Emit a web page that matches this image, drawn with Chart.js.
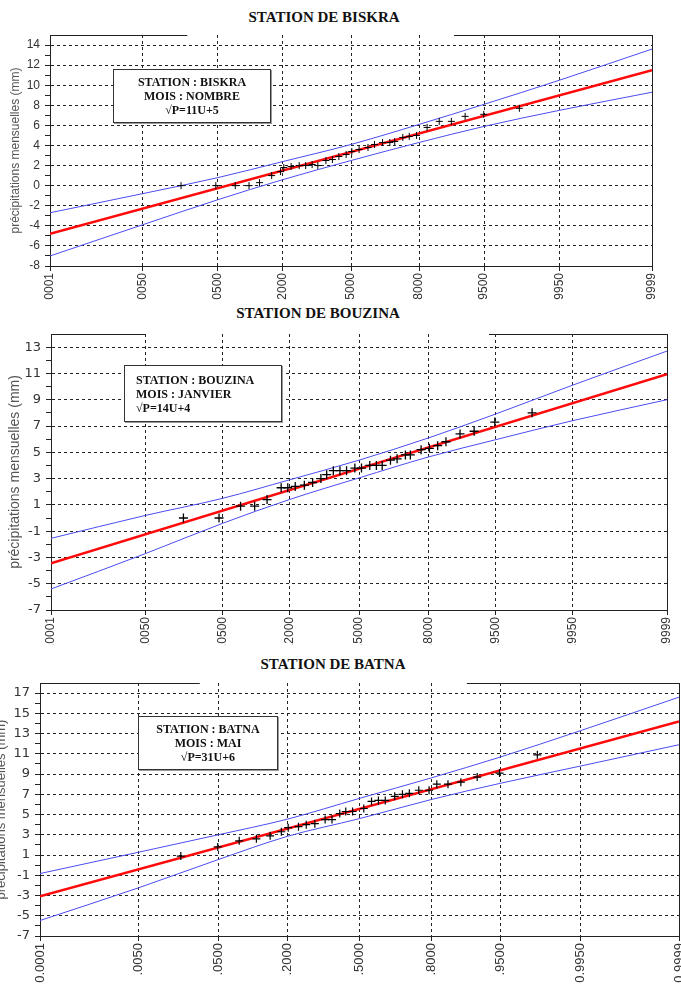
<!DOCTYPE html>
<html>
<head>
<meta charset="utf-8">
<script src="https://cdn.jsdelivr.net/npm/chart.js@4.4.1/dist/chart.umd.min.js"></script>
<style>
  html, body { margin: 0; padding: 0; background: #fff; overflow: hidden; }
  #page { position: relative; width: 681px; height: 988px; overflow: hidden; }
  canvas { position: absolute; }
  .title {
    position: absolute; transform: translate(-50%, -50%); white-space: nowrap;
    font: bold 15px "Liberation Serif", "Times New Roman", serif; color: #111;
  }
  .note {
    position: absolute; box-sizing: border-box; background: #fff;
    border: 1.5px solid #333; box-shadow: 1px 1px 0 #999;
    display: flex; flex-direction: column; justify-content: center;
    font: bold 12px "Liberation Serif", "Times New Roman", serif; line-height: 14px; color: #111;
  }
</style>
</head>
<body>
<div id="page">
  <div class="title" style="left:324px; top:17px;">STATION DE BISKRA</div>
  <canvas id="biskra" width="700" height="300" style="left:0; top:0;"></canvas>
  <div class="note" style="left:113px; top:69px; width:158px; height:54px; align-items:center;">
    <div>STATION : BISKRA</div><div>MOIS : NOMBRE</div><div>√P=11U+5</div>
  </div>

  <div class="title" style="left:318px; top:313px;">STATION DE BOUZINA</div>
  <canvas id="bouzina" width="700" height="345" style="left:0; top:300px;"></canvas>
  <div class="note" style="left:124px; top:365px; width:158px; height:57px; align-items:flex-start; padding-left:11px;">
    <div>STATION : BOUZINA</div><div>MOIS : JANVIER</div><div>√P=14U+4</div>
  </div>

  <div class="title" style="left:333px; top:664px;">STATION DE BATNA</div>
  <canvas id="batna" width="720" height="343" style="left:-8px; top:645px;"></canvas>
  <div class="note" style="left:138px; top:716px; width:140px; height:54px; align-items:center;">
    <div>STATION : BATNA</div><div>MOIS : MAI</div><div>√P=31U+6</div>
  </div>
</div>

<script>
// x axis: gauss variable u at the probability ticks
const probTicks = [-3.719, -2.576, -1.645, -0.842, 0, 0.842, 1.645, 2.576, 3.719];
const probLabels = [".0001", ".0050", ".0500", ".2000", ".5000", ".8000", ".9500", ".9950", ".9999"];
const probLabelsBatna = ["0.0001", ".0050", ".0500", ".2000", ".5000", ".8000", ".9500", "0.9950", "0.9999"];

// biskra
const biskraYTicks = [-8, -6, -4, -2, 0, 2, 4, 6, 8, 10, 12, 14];
const biskraU = [-2.10, -1.67, -1.43, -1.26, -1.13, -0.98, -0.87, -0.83, -0.74, -0.64, -0.56, -0.48, -0.41,
  -0.31, -0.23, -0.15, -0.06, 0.01, 0.10, 0.21, 0.29, 0.39, 0.48, 0.54, 0.64, 0.72, 0.81, 0.94, 1.09,
  1.24, 1.41, 1.64, 2.08];
const biskraP = [0.0, 0.0, 0.0, 0.0, 0.3, 1.0, 1.4, 1.8, 1.9, 2.0, 2.0, 2.1, 2.0,
  2.5, 2.6, 2.9, 3.1, 3.4, 3.6, 3.8, 4.1, 4.3, 4.3, 4.4, 4.8, 4.9, 5.0, 5.8, 6.4,
  6.4, 6.9, 7.1, 7.7];
const biskraFit = [-4.8, 11.5];
const biskraUpper = [-2.7, -0.8, 0.8, 2.4, 4.1, 6.1, 8.1, 10.5, 13.6];
const biskraLower = [-7.0, -3.9, -1.4, 0.6, 2.5, 4.3, 5.9, 7.5, 9.3];

// bouzina
const bouzinaYTicks = [-7, -5, -3, -1, 1, 3, 5, 7, 9, 11, 13];
const bouzinaU = [-2.12, -1.69, -1.43, -1.26, -1.11, -0.94, -0.86, -0.77, -0.66, -0.56, -0.46, -0.39, -0.31,
  -0.23, -0.15, -0.05, 0.03, 0.13, 0.21, 0.28, 0.38, 0.46, 0.56, 0.62, 0.75, 0.85, 0.95, 1.05, 1.22,
  1.39, 1.64, 2.09];
const bouzinaP = [0.0, 0.0, 0.9, 0.9, 1.4, 2.3, 2.3, 2.4, 2.5, 2.7, 3.0, 3.3, 3.6,
  3.6, 3.6, 3.8, 3.8, 4.0, 4.0, 4.0, 4.4, 4.5, 4.8, 4.8, 5.2, 5.3, 5.5, 5.8, 6.4,
  6.6, 7.3, 8.0];
const bouzinaFit = [-3.45, 10.95];
const bouzinaUpper = [-1.55, 0.2, 1.5, 2.9, 4.4, 6.1, 7.9, 10.1, 12.7];
const bouzinaLower = [-5.4, -2.7, -0.4, 1.4, 3.05, 4.65, 5.95, 7.4, 9.0];

// batna
const batnaYTicks = [-7, -5, -3, -1, 1, 3, 5, 7, 9, 11, 13, 15, 17];
const batnaU = [-2.08, -1.65, -1.40, -1.20, -1.04, -0.91, -0.83, -0.71, -0.62, -0.52, -0.40, -0.32, -0.23,
  -0.16, -0.08, 0.05, 0.14, 0.22, 0.30, 0.41, 0.50, 0.58, 0.69, 0.81, 0.90, 1.03, 1.18, 1.37, 1.63, 2.07];
const batnaP = [0.9, 1.8, 2.4, 2.6, 2.9, 3.3, 3.7, 3.8, 4.0, 4.1, 4.5, 4.5, 5.1,
  5.3, 5.3, 5.6, 6.3, 6.4, 6.4, 6.8, 7.0, 7.1, 7.4, 7.4, 8.0, 8.0, 8.2, 8.7, 9.1, 10.9];
const batnaFit = [-3.07, 14.2];
const batnaUpper = [-0.83, 1.27, 3.0, 4.54, 6.6, 8.64, 10.7, 13.3, 16.6];
const batnaLower = [-5.47, -2.25, 0.55, 2.84, 4.6, 6.5, 8.1, 9.8, 11.9];

// draws the right edge and the broken top edge of the plot box
const framePlugin = {
  id: "frame",
  afterDraw(chart, args, opts) {
    const { ctx, chartArea: a } = chart;
    const w = a.right - a.left;
    const top = Math.round(a.top) + 0.5;
    const right = Math.round(a.right) + 0.5;
    ctx.save();
    ctx.strokeStyle = "#222";
    ctx.lineWidth = 1;
    ctx.beginPath();
    ctx.moveTo(right, a.bottom);
    ctx.lineTo(right, top);
    ctx.lineTo(a.left + w * opts.gap[1], top);
    ctx.moveTo(a.left + w * opts.gap[0], top);
    ctx.lineTo(a.left, top);
    ctx.stroke();
    ctx.restore();
  },
};

const makeChart = (id, o) => {
  // minor ticks halfway between the labelled ones
  const minor = o.yTicks.slice(1).map((v, i) => (v + o.yTicks[i]) / 2);
  const allY = o.yTicks.concat(minor).sort((a, b) => a - b);
  const isMajor = (v) => o.yTicks.includes(v);
  const toPts = (xs, ys) => xs.map((x, i) => ({ x: x, y: ys[i] }));

  return new Chart(document.getElementById(id), {
    type: "scatter",
    data: {
      datasets: [
        {
          label: "observations",
          data: toPts(o.u, o.p),
          pointStyle: "cross",
          pointRadius: o.cross,
          borderColor: "#000",
          borderWidth: o.crossWidth,
          order: 0,
        },
        {
          label: "droite",
          data: toPts([probTicks[0], probTicks[probTicks.length - 1]], o.fit),
          showLine: true,
          borderColor: "#ff0a0a",
          borderWidth: 2.5,
          pointRadius: 0,
          order: 1,
        },
        {
          label: "borne sup",
          data: toPts(probTicks, o.upper),
          showLine: true,
          borderColor: "#4c4cf2",
          borderWidth: 1,
          pointRadius: 0,
          cubicInterpolationMode: "monotone",
          order: 2,
        },
        {
          label: "borne inf",
          data: toPts(probTicks, o.lower),
          showLine: true,
          borderColor: "#4c4cf2",
          borderWidth: 1,
          pointRadius: 0,
          cubicInterpolationMode: "monotone",
          order: 3,
        },
      ],
    },
    options: {
      responsive: false,
      animation: false,
      layout: { padding: { top: o.top, right: o.right, left: 0, bottom: 0 } },
      plugins: {
        legend: { display: false },
        tooltip: { enabled: false },
        frame: { gap: o.gap },
      },
      scales: {
        x: {
          type: "linear",
          min: probTicks[0],
          max: probTicks[probTicks.length - 1],
          afterBuildTicks: (s) => {
            s.ticks = probTicks.map((v) => ({ value: v }));
          },
          afterFit: (s) => {
            s.height = o.xh;
          },
          ticks: {
            autoSkip: false,
            minRotation: 90,
            maxRotation: 90,
            padding: 2,
            color: "#333",
            font: { family: "'Liberation Sans', Arial, sans-serif", size: o.xFont },
            callback: (v, i) => o.xLabels[i],
          },
          grid: { color: "#222", tickColor: "#222", tickLength: 5 },
          border: { color: "#222", width: 1, dash: [3, 3] },
        },
        y: {
          type: "linear",
          min: o.yMin,
          max: o.yMax,
          afterBuildTicks: (s) => {
            s.ticks = allY.map((v) => ({ value: v }));
          },
          afterFit: (s) => {
            s.width = o.yw;
          },
          ticks: {
            autoSkip: false,
            padding: 5,
            color: "#333",
            font: { family: o.yFontFamily, size: o.yFont },
            callback: (v) => (isMajor(v) ? v : ""),
          },
          grid: {
            color: (c) => (c.tick && isMajor(c.tick.value) ? "#222" : "rgba(0,0,0,0)"),
            tickColor: "#222",
            tickLength: 5,
          },
          border: { color: "#222", width: 1, dash: [3, 3] },
          title: {
            display: true,
            text: "précipitations mensuelles (mm)",
            color: "#555",
            font: { family: "'Liberation Sans', Arial, sans-serif", size: o.titleFont },
            padding: { top: o.titlePad, bottom: 0 },
          },
        },
      },
    },
    plugins: [framePlugin],
  });
};

makeChart("biskra", {
  u: biskraU, p: biskraP, fit: biskraFit, upper: biskraUpper, lower: biskraLower,
  yTicks: biskraYTicks, yMin: -8, yMax: 15, xLabels: probLabels,
  top: 35, right: 48, yw: 50, xh: 34, gap: [0.228, 0.671],
  cross: 3.5, crossWidth: 1, xFont: 12, yFont: 12,
  yFontFamily: "'Liberation Sans', Arial, sans-serif", titleFont: 12, titlePad: 8,
});

makeChart("bouzina", {
  u: bouzinaU, p: bouzinaP, fit: bouzinaFit, upper: bouzinaUpper, lower: bouzinaLower,
  yTicks: bouzinaYTicks, yMin: -7, yMax: 14, xLabels: probLabels,
  top: 34, right: 33, yw: 51, xh: 35, gap: [0.154, 0.711],
  cross: 4.5, crossWidth: 1.3, xFont: 12, yFont: 13,
  yFontFamily: "'DejaVu Sans', sans-serif", titleFont: 14, titlePad: 7,
});

makeChart("batna", {
  u: batnaU, p: batnaP, fit: batnaFit, upper: batnaUpper, lower: batnaLower,
  yTicks: batnaYTicks, yMin: -7, yMax: 18, xLabels: probLabelsBatna,
  top: 38, right: 33, yw: 48, xh: 52, gap: [0.25, 0.668],
  cross: 4, crossWidth: 1.2, xFont: 13, yFont: 13,
  yFontFamily: "'DejaVu Sans', sans-serif", titleFont: 13, titlePad: 2,
});
</script>
</body>
</html>
